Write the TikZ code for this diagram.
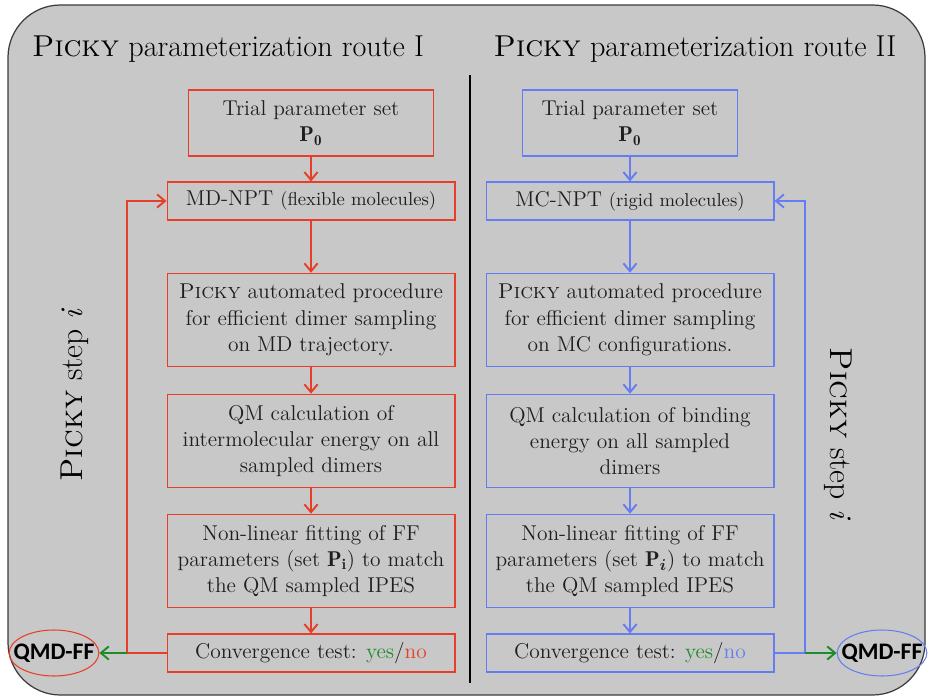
\documentclass[tikz,border=0pt]{standalone}
\usepackage{amsmath}
\usepackage{fontspec}
\newfontfamily\qmdfont{Carlito}
\usetikzlibrary{arrows.meta,shapes.geometric}

\definecolor{bgGray}{RGB}{200,200,200}
\definecolor{panelEdge}{RGB}{60,60,60}
\definecolor{routeRed}{RGB}{232,62,40}
\definecolor{routeBlue}{RGB}{102,125,242}
\definecolor{okGreen}{RGB}{30,140,40}
\definecolor{txtGray}{RGB}{30,30,30}

\newcommand{\flowfont}{\fontsize{12.2}{15}\selectfont}
\newcommand{\notefont}{\fontsize{10.6}{12}\selectfont}

\begin{document}
\begin{tikzpicture}[x=0.02cm, y=-0.02cm,
    panel/.style={fill=bgGray, draw=panelEdge, line width=0.7pt, rounded corners=1.05cm},
    titletext/.style={anchor=base, text=black, font=\fontsize{17.2}{20}\selectfont},
    steptext/.style={text=black, font=\fontsize{18}{21}\selectfont},
    flowbox/.style={line width=0.6pt, text=txtGray, align=center, inner sep=2pt,
      minimum width=5.76cm, font=\flowfont},
    redbox/.style={flowbox, draw=routeRed},
    bluebox/.style={flowbox, draw=routeBlue},
    tip/.style={-{Straight Barb[length=4.5pt,width=7.5pt]}},
    redline/.style={draw=routeRed, line width=1.1pt},
    blueline/.style={draw=routeBlue, line width=1.1pt},
    redarr/.style={redline, tip},
    bluearr/.style={blueline, tip},
    greenarr/.style={draw=okGreen, line width=1.1pt, tip},
    endnode/.style={ellipse, line width=0.6pt, text=black, inner xsep=-5pt, inner ysep=0pt,
      minimum width=1.76cm, minimum height=0.92cm, font=\qmdfont\bfseries\fontsize{13.5}{15}\selectfont}]

    % Panel and divider
    \useasboundingbox (0,0) rectangle (929,699);
    \draw[panel] (8,5) rectangle (925,695);
    \draw[line width=1.1pt] (470,75) -- (470,683);

    % Titles
    \node[titletext] (titleL) at (228,57) {\textsc{Picky} parameterization route I};
    \node[titletext] (titleR) at (695,57) {\textsc{Picky} parameterization route II};

    % Route I boxes
    \node[redbox, minimum width=4.9cm, minimum height=1.32cm] (trialL) at (311,123)
      {Trial parameter set\\$\mathbf{P}_{\mathbf{0}}$};
    \node[redbox, minimum height=0.76cm] (nptL) at (311,201)
      {MD-NPT {\notefont(flexible molecules)}};
    \node[redbox, minimum height=1.87cm] (pickyL) at (311,320)
      {\textsc{Picky} automated procedure\\for efficient dimer sampling\\on MD trajectory.};
    \node[redbox, minimum height=1.87cm] (qmL) at (311,441)
      {QM calculation of\\intermolecular energy on all\\sampled dimers};
    \node[redbox, minimum height=1.87cm] (fitL) at (311,561)
      {Non-linear fitting of FF\\parameters (set $\mathbf{P}_{\mathbf{i}}$) to match\\the QM sampled IPES};
    \node[redbox, minimum height=0.76cm] (convL) at (311,653)
      {Convergence test: \textcolor{okGreen}{yes}/\textcolor{routeRed}{no}};
    \node[endnode, draw=routeRed] (qmdL) at (54,653) {QMD-FF};
    \coordinate (loopL) at (127,653);

    % Route II boxes
    \node[bluebox, minimum width=4.3cm, minimum height=1.32cm] (trialR) at (630,123)
      {Trial parameter set\\$\mathbf{P}_{\mathbf{0}}$};
    \node[bluebox, minimum height=0.76cm] (nptR) at (630,201)
      {MC-NPT {\notefont(rigid molecules)}};
    \node[bluebox, minimum height=1.87cm] (pickyR) at (630,320)
      {\textsc{Picky} automated procedure\\for efficient dimer sampling\\on MC configurations.};
    \node[bluebox, minimum height=1.87cm] (qmR) at (630,441)
      {QM calculation of binding\\energy on all sampled\\dimers};
    \node[bluebox, minimum height=1.87cm] (fitR) at (630,561)
      {Non-linear fitting of FF\\parameters (set $\mathbf{P}_{\boldsymbol{i}}$) to match\\the QM sampled IPES};
    \node[bluebox, minimum height=0.76cm] (convR) at (630,653)
      {Convergence test: \textcolor{okGreen}{yes}/\textcolor{routeBlue}{no}};
    \node[endnode, draw=routeBlue] (qmdR) at (882,653) {QMD-FF};
    \coordinate (loopR) at (805,653);

    % Step labels
    \node[steptext, rotate=90] (stepL) at (75,395) {\textsc{Picky} step \textit{i}};
    \node[steptext, rotate=-90] (stepR) at (838,434) {\textsc{Picky} step \textit{i}};

    % Flow arrows
    \foreach \a/\b in {trialL/nptL, nptL/pickyL, pickyL/qmL, qmL/fitL, fitL/convL}
      \draw[redarr] (\a) -- (\b);
    \foreach \a/\b in {trialR/nptR, nptR/pickyR, pickyR/qmR, qmR/fitR, fitR/convR}
      \draw[bluearr] (\a) -- (\b);

    % Feedback loops
    \draw[redline] (convL.west) -- (loopL);
    \draw[redarr] (loopL) |- (nptL.west);
    \draw[greenarr] (loopL) -- (qmdL);
    \draw[blueline] (convR.east) -- (loopR);
    \draw[bluearr] (loopR) |- (nptR.east);
    \draw[greenarr] (loopR) -- (qmdR);
\end{tikzpicture}
\end{document}
